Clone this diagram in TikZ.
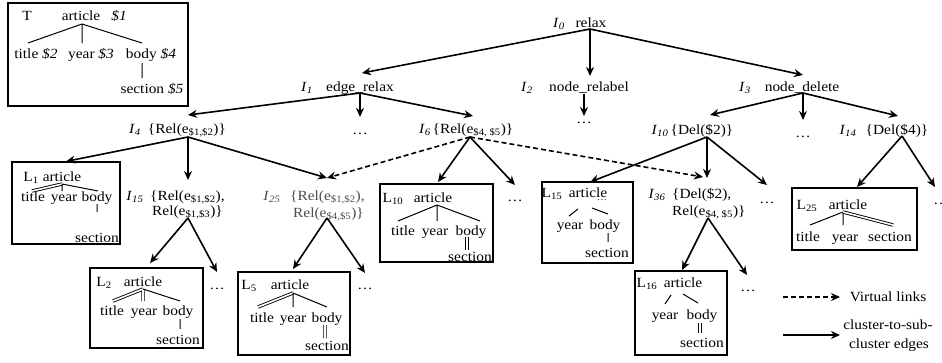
\documentclass[tikz,border=0pt]{standalone}
\usepackage{fontspec}
\setmainfont{Liberation Serif}[FakeStretch=1.1]
\usetikzlibrary{arrows.meta}
\newcommand\Isub[1]{\textit{I}\textsubscript{\textit{#1}}}
\begin{document}
\begin{tikzpicture}[x=1pt,y=-1pt,
  every node/.style={font=\fontsize{14}{16}\selectfont, inner sep=0pt},
  txt/.style={anchor=base},
  txw/.style={anchor=base west},
  grey/.style={text=black!70},
  arr/.style={line width=1.6pt, -{Stealth[length=9pt,width=8pt]}},
  darr/.style={arr, dash pattern=on 5pt off 3pt},
  tl/.style={line width=1pt},
  dl/.style={double, double distance=1.6pt, line width=0.9pt},
  lbox/.style={draw, line width=1.2pt}]
\useasboundingbox (0,0) rectangle (942,362);

% ---------- T box ----------
\node[lbox, minimum width=180pt, minimum height=103pt] (Tbox) at (98,54.5) {};
\node[txt] (Tt) at (27,20) {T};
\node[txt] (Tart) at (81,20) {article};
\node[txt] (Td1) at (119,20) {\textit{\$1}};
\node[txt] (Ttitle) at (36,58) {title \textit{\$2}};
\node[txt] (Tyear) at (91,58) {year \textit{\$3}};
\node[txt] (Tbody) at (151,58) {body \textit{\$4}};
\node[txt] (Tsec) at (152,93) {section \textit{\$5}};
\coordinate (ta) at (82,24);
\coordinate (tt) at (28,43);
\coordinate (ty) at (82,43);
\coordinate (tb) at (142,43);
\coordinate (tb1) at (142,63);
\coordinate (ts) at (142,78);
\draw[tl] (ta) -- (tt) (ta) -- (ty) (ta) -- (tb) (tb1) -- (ts);

% ---------- top levels ----------
\node[txt] (I0l) at (559,27) {\Isub{0}};
\node[txt] (I0t) at (591,27) {relax};
\node[txt] (I1l) at (307,91) {\Isub{1}};
\node[txt] (I1t) at (360,91) {edge\_relax};
\node[txt] (I2l) at (527,91) {\Isub{2}};
\node[txt] (I2t) at (589,91) {node\_relabel};
\node[txt] (I3l) at (745,91) {\Isub{3}};
\node[txt] (I3t) at (802,91) {node\_delete};

\coordinate (i0) at (590,29);
\coordinate (e1) at (362,73);
\coordinate (e2) at (590,76);
\coordinate (e3) at (803,75);
\draw[arr] (i0) -- (e1);
\draw[arr] (i0) -- (e2);
\draw[arr] (i0) -- (e3);

\coordinate (i1) at (360,93);
\coordinate (e4) at (188,115);
\coordinate (e1d) at (360,117);
\coordinate (e6) at (473,116);
\draw[arr] (i1) -- (e4);
\draw[arr] (i1) -- (e1d);
\draw[arr] (i1) -- (e6);
\node[txt] (d1) at (360,134) {\ldots};

\coordinate (i2) at (584,94);
\coordinate (e2d) at (584,116);
\draw[arr] (i2) -- (e2d);
\node[txt] (d2) at (584,123) {\ldots};

\coordinate (i3) at (803,93);
\coordinate (e10) at (710,115);
\coordinate (e3d) at (803,120);
\coordinate (e14) at (898,116);
\draw[arr] (i3) -- (e10);
\draw[arr] (i3) -- (e3d);
\draw[arr] (i3) -- (e14);
\node[txt] (d3) at (803,137) {\ldots};

% ---------- level 2 ----------
\node[txt] (I4l) at (135,133) {\Isub{4}};
\node[txt] (I4t) at (187,133) {\{Rel(e\textsubscript{\$1,\$2})\}};
\node[txt] (I6l) at (425,133) {\Isub{6}};
\node[txt] (I6t) at (473,133) {\{Rel(e\textsubscript{\$4, \$5})\}};
\node[txt] (I10l) at (660,134) {\Isub{10}};
\node[txt] (I10t) at (702,134) {\{Del(\$2)\}};
\node[txt] (I14l) at (848,134) {\Isub{14}};
\node[txt] (I14t) at (897,134) {\{Del(\$4)\}};

% ---------- level 3 labels ----------
\node[txt] (I15l) at (135,200) {\Isub{15}};
\node[txw] (I15a) at (150,200) {\{Rel(e\textsubscript{\$1,\$2}),};
\node[txw] (I15b) at (152,215) {Rel(e\textsubscript{\$1,\$3})\}};
\node[txt, grey] (I25l) at (272,200) {\Isub{25}};
\node[txw, grey] (I25a) at (290,200) {\{Rel(e\textsubscript{\$1,\$2}),};
\node[txw, grey] (I25b) at (293,217) {Rel(e\textsubscript{\$4,\$5})\}};
\node[txt] (I36l) at (657,198) {\Isub{36}};
\node[txw] (I36a) at (672,198) {\{Del(\$2),};
\node[txw] (I36b) at (672,215) {Rel(e\textsubscript{\$4, \$5})\}};

% ---------- boxes ----------
\node[lbox, minimum width=108pt, minimum height=82pt] (L1) at (66,203) {};
\node[lbox, minimum width=113pt, minimum height=80pt] (L2) at (146.5,308) {};
\node[lbox, minimum width=112pt, minimum height=83pt] (L5) at (294,313.5) {};
\node[lbox, minimum width=113pt, minimum height=78pt] (L10) at (436.5,223) {};
\node[lbox, minimum width=91pt, minimum height=81pt] (L15) at (587.5,222.5) {};
\node[lbox, minimum width=92pt, minimum height=84pt] (L16) at (681,313) {};
\node[lbox, minimum width=125pt, minimum height=62pt] (L25) at (854.5,219) {};

% ---------- arrows level 2 -> 3 ----------
\coordinate (i4) at (188,137);
\coordinate (e15) at (188,180);
\coordinate (e25) at (327,178);
\draw[arr] (i4) -- (L1.north);
\draw[arr] (i4) -- (e15);
\draw[arr] (i4) -- (e25);

\coordinate (i6) at (470,137);
\coordinate (el10) at (438,182);
\coordinate (e6r) at (515,185);
\coordinate (e36) at (703,177);
\draw[arr] (i6) -- (el10);
\draw[arr] (i6) -- (e6r);
\draw[darr] (i6) -- (e25);
\draw[darr] (i6) -- (e36);
\node[txt] (d6) at (515,201) {\ldots};

\coordinate (i10) at (707,137);
\coordinate (el15) at (590,182);
\coordinate (e36b) at (707,178);
\coordinate (e10r) at (767,185);
\draw[arr] (i10) -- (el15);
\draw[arr] (i10) -- (e36b);
\draw[arr] (i10) -- (e10r);
\node[txt] (d10) at (767,203) {\ldots};

\coordinate (i14) at (902,136);
\coordinate (el25) at (857,187);
\coordinate (e14r) at (935,187);
\draw[arr] (i14) -- (el25);
\draw[arr] (i14) -- (e14r);
\node[txt] (d14) at (941,204) {\ldots};

% ---------- arrows level 3 -> 4 ----------
\coordinate (i15) at (188,218);
\coordinate (el2) at (150,263);
\coordinate (e15r) at (217,272);
\draw[arr] (i15) -- (el2);
\draw[arr] (i15) -- (e15r);
\node[txt] (d15) at (217,289) {\ldots};

\coordinate (i25) at (327,218);
\coordinate (el5) at (293,269);
\coordinate (e25r) at (365,273);
\draw[arr] (i25) -- (el5);
\draw[arr] (i25) -- (e25r);
\node[txt] (d25) at (365,289) {\ldots};

\coordinate (i36) at (708,218);
\coordinate (el16) at (682,270);
\coordinate (e36r) at (747,275);
\draw[arr] (i36) -- (el16);
\draw[arr] (i36) -- (e36r);
\node[txt] (d36) at (748,291) {\ldots};

% ---------- L1 ----------
\node[txt] (L1n) at (31,181) {L\textsubscript{1}};
\node[txt] (L1a) at (62,181) {article};
\node[txt] (L1t) at (33,201) {title};
\node[txt] (L1y) at (64,201) {year};
\node[txt] (L1b) at (97,201) {body};
\node[txt] (L1s) at (97,242) {section};
\coordinate (l1a) at (62,184);
\coordinate (l1t) at (32,191);
\coordinate (l1y) at (62,191);
\coordinate (l1b) at (98,191);
\coordinate (l1b1) at (97,204);
\coordinate (l1s) at (97,212);
\draw[dl] (l1a) -- (l1t);
\draw[tl] (l1a) -- (l1y) (l1a) -- (l1b) (l1b1) -- (l1s);

% ---------- L2 ----------
\node[txt] (L2n) at (104,286) {L\textsubscript{2}};
\node[txt] (L2a) at (143,286) {article};
\node[txt] (L2t) at (112,315) {title};
\node[txt] (L2y) at (144,315) {year};
\node[txt] (L2b) at (178,315) {body};
\node[txt] (L2s) at (178,344) {section};
\coordinate (l2a) at (143,289);
\coordinate (l2t) at (113,301);
\coordinate (l2y) at (143,301);
\coordinate (l2b) at (180,301);
\coordinate (l2b1) at (180,319);
\coordinate (l2s) at (180,329);
\draw[dl] (l2a) -- (l2t) (l2a) -- (l2y);
\draw[tl] (l2a) -- (l2b) (l2b1) -- (l2s);

% ---------- L5 ----------
\node[txt] (L5n) at (249,289) {L\textsubscript{5}};
\node[txt] (L5a) at (290,289) {article};
\node[txt] (L5t) at (262,322) {title};
\node[txt] (L5y) at (293,322) {year};
\node[txt] (L5b) at (327,322) {body};
\node[txt] (L5s) at (327,350) {section};
\coordinate (l5a) at (293,293);
\coordinate (l5t) at (258,307);
\coordinate (l5y) at (293,307);
\coordinate (l5b) at (327,307);
\coordinate (l5b1) at (325,325);
\coordinate (l5s) at (325,338);
\draw[dl] (l5a) -- (l5t) (l5b1) -- (l5s);
\draw[tl] (l5a) -- (l5y) (l5a) -- (l5b);

% ---------- L10 ----------
\node[txt] (L10n) at (393,202) {L\textsubscript{10}};
\node[txt] (L10a) at (433,202) {article};
\node[txt] (L10t) at (403,235) {title};
\node[txt] (L10y) at (435,235) {year};
\node[txt] (L10b) at (471,235) {body};
\node[txt] (L10s) at (470,261) {section};
\coordinate (l10a) at (437,205);
\coordinate (l10t) at (398,221);
\coordinate (l10y) at (437,221);
\coordinate (l10b) at (480,221);
\coordinate (l10b1) at (467,237);
\coordinate (l10s) at (467,250);
\draw[tl] (l10a) -- (l10t) (l10a) -- (l10y) (l10a) -- (l10b);
\draw[dl] (l10b1) -- (l10s);

% ---------- L15 ----------
\node[txt] (L15n) at (552,197) {L\textsubscript{15}};
\node[txt] (L15a) at (588,197) {article};
\node[txt, font=\fontsize{9}{10}\selectfont] (L15d) at (602,200) {\ldots};
\node[txt] (L15y) at (570,229) {year};
\node[txt] (L15b) at (605,229) {body};
\node[txt] (L15s) at (607,257) {section};
\coordinate (l15a1) at (578,209);
\coordinate (l15y) at (569,216);
\coordinate (l15a2) at (592,208);
\coordinate (l15b) at (608,214);
\coordinate (l15b1) at (608,233);
\coordinate (l15s) at (608,242);
\draw[tl] (l15a1) -- (l15y) (l15a2) -- (l15b) (l15b1) -- (l15s);

% ---------- L16 ----------
\node[txt] (L16n) at (647,287) {L\textsubscript{16}};
\node[txt] (L16a) at (683,287) {article};
\node[txt] (L16y) at (665,319) {year};
\node[txt] (L16b) at (702,319) {body};
\node[txt] (L16s) at (702,347) {section};
\coordinate (l16a1) at (671,295);
\coordinate (l16y) at (665,304);
\coordinate (l16a2) at (683,294);
\coordinate (l16b) at (698,303);
\coordinate (l16b1) at (700,323);
\coordinate (l16s) at (700,333);
\draw[tl] (l16a1) -- (l16y) (l16a2) -- (l16b);
\draw[dl] (l16b1) -- (l16s);

% ---------- L25 ----------
\node[txt] (L25n) at (807,209) {L\textsubscript{25}};
\node[txt] (L25a) at (848,209) {article};
\node[txt] (L25t) at (808,241) {title};
\node[txt] (L25y) at (845,241) {year};
\node[txt] (L25s) at (890,241) {section};
\coordinate (l25a) at (843,212);
\coordinate (l25t) at (810,225);
\coordinate (l25y) at (843,225);
\coordinate (l25s) at (893,225);
\draw[tl] (l25a) -- (l25t) (l25a) -- (l25y);
\draw[dl] (l25a) -- (l25s);

% ---------- legend ----------
\coordinate (lg1a) at (783,297);
\coordinate (lg1b) at (840,297);
\coordinate (lg2a) at (783,335);
\coordinate (lg2b) at (840,335);
\draw[darr] (lg1a) -- (lg1b);
\draw[arr] (lg2a) -- (lg2b);
\node[txt] (lgv) at (888,301) {Virtual links};
\node[txt] (lgc1) at (888,329) {cluster-to-sub-};
\node[txt] (lgc2) at (889,348) {cluster edges};
\end{tikzpicture}
\end{document}
